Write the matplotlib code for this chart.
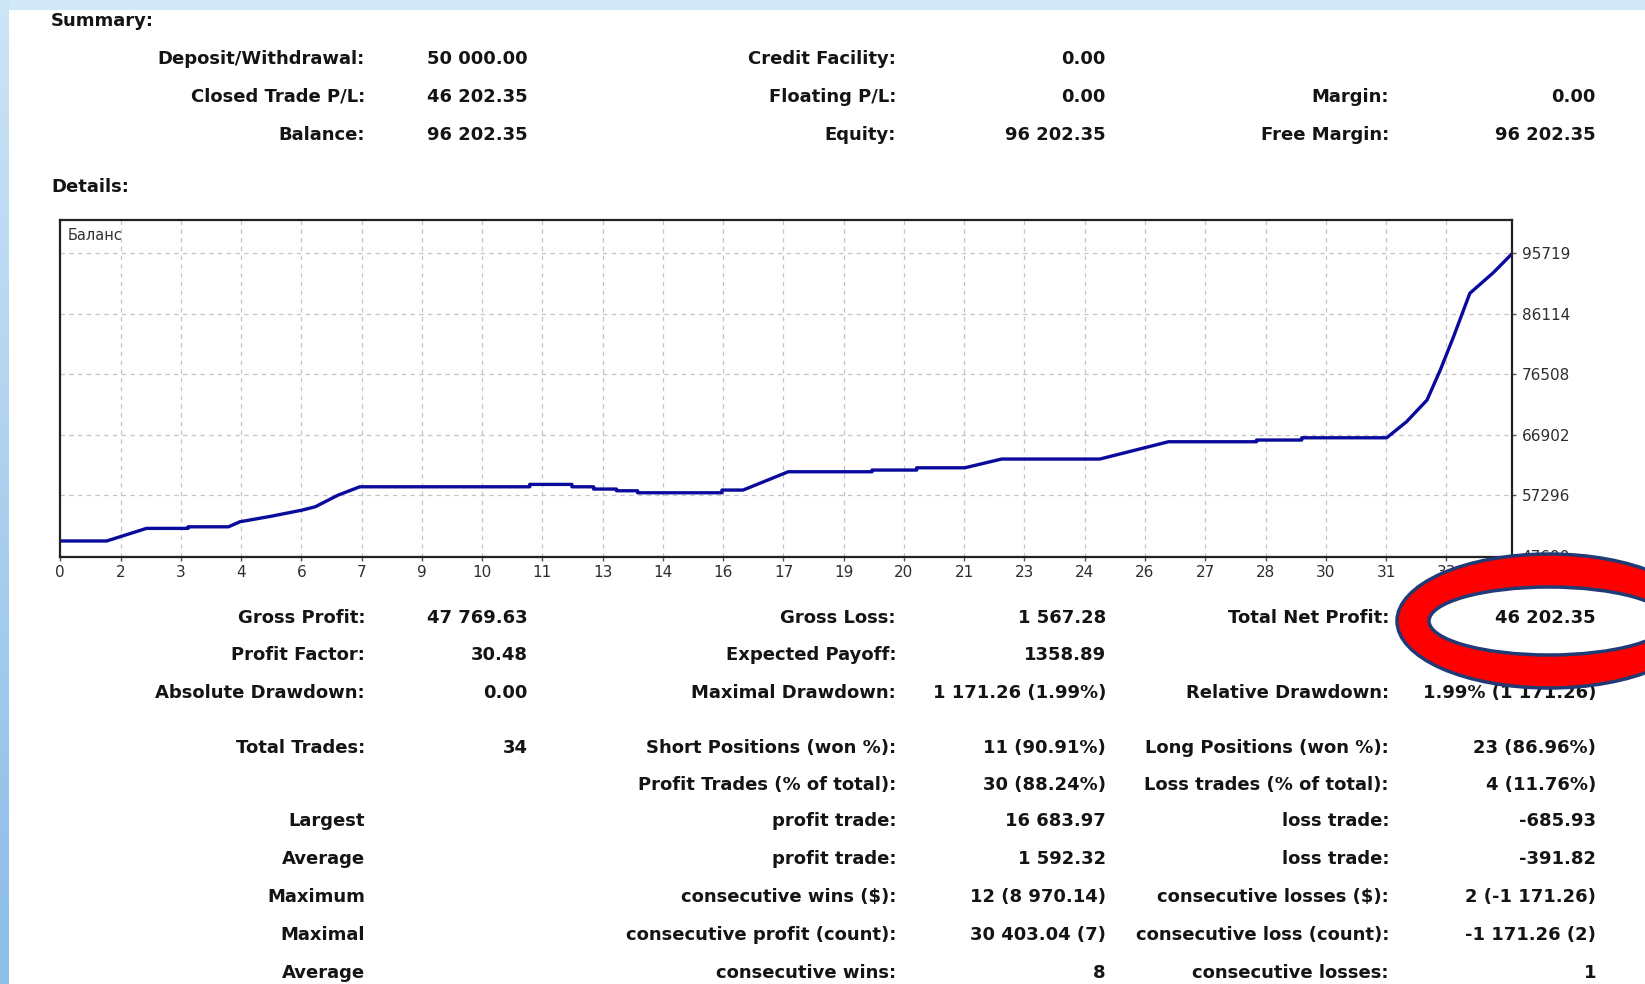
#!/usr/bin/env python3
# coding: utf-8

import numpy as np
import matplotlib
matplotlib.use("Agg")
import matplotlib.pyplot as plt
from matplotlib.colors import LinearSegmentedColormap
from matplotlib.patches import Rectangle, Ellipse

#
# Summary block
#
sum_labels_1 = ["Deposit/Withdrawal:", "Closed Trade P/L:", "Balance:"]
sum_values_1 = ["50 000.00", "46 202.35", "96 202.35"]
sum_labels_2 = ["Credit Facility:", "Floating P/L:", "Equity:"]
sum_values_2 = ["0.00", "0.00", "96 202.35"]
sum_labels_3 = ["", "Margin:", "Free Margin:"]
sum_values_3 = ["", "0.00", "96 202.35"]

#
# Balance curve (x in grid steps, y in account currency)
#
bal_x = [0.00, 0.77, 1.43, 2.12, 2.12, 2.79, 2.98, 3.51, 4.01, 4.23, 4.61, 4.97,
         7.79, 7.79, 8.49, 8.49, 8.85, 8.85, 9.23, 9.23, 9.58, 9.58, 10.98, 10.98,
         11.33, 12.08, 13.47, 13.47, 14.21, 14.21, 15.01, 15.62, 17.25, 18.39,
         19.85, 19.85, 20.60, 20.60, 22.01, 22.34, 22.68, 22.90, 23.12, 23.39,
         23.61, 23.78, 24.09]
bal_y = [50000, 50000, 52000, 52000, 52250, 52250, 53050, 53950, 54900, 55430, 57290, 58610,
         58610, 58990, 58990, 58610, 58610, 58250, 58250, 57980, 57980, 57660, 57660, 58090,
         58090, 61000, 61000, 61270, 61270, 61630, 61630, 63020, 63020, 65770,
         65770, 66040, 66040, 66400, 66400, 68950, 72400, 77170, 82460, 89360,
         91210, 92640, 95650]

y_ticks = [47690, 57296, 66902, 76508, 86114, 95719]
x_labels = ["0", "2", "3", "4", "6", "7", "9", "10", "11", "13", "14", "16",
            "17", "19", "20", "21", "23", "24", "26", "27", "28", "30", "31", "33"]

#
# Details block (one list per column)
#
det_labels_1 = ["Gross Profit:", "Profit Factor:", "Absolute Drawdown:", "Total Trades:", "",
                "Largest", "Average", "Maximum", "Maximal", "Average"]
det_values_1 = ["47 769.63", "30.48", "0.00", "34", "", "", "", "", "", ""]
det_labels_2 = ["Gross Loss:", "Expected Payoff:", "Maximal Drawdown:", "Short Positions (won %):",
                "Profit Trades (% of total):", "profit trade:", "profit trade:",
                "consecutive wins ($):", "consecutive profit (count):", "consecutive wins:"]
det_values_2 = ["1 567.28", "1358.89", "1 171.26 (1.99%)", "11 (90.91%)", "30 (88.24%)",
                "16 683.97", "1 592.32", "12 (8 970.14)", "30 403.04 (7)", "8"]
det_labels_3 = ["Total Net Profit:", "", "Relative Drawdown:", "Long Positions (won %):",
                "Loss trades (% of total):", "loss trade:", "loss trade:",
                "consecutive losses ($):", "consecutive loss (count):", "consecutive losses:"]
det_values_3 = ["46 202.35", "", "1.99% (1 171.26)", "23 (86.96%)", "4 (11.76%)",
                "-685.93", "-391.82", "2 (-1 171.26)", "-1 171.26 (2)", "1"]

W, H = 1645, 984
fig = plt.figure(figsize=(W / 100, H / 100), dpi=100)
fig.patch.set_facecolor("white")

# background layer in pixel coords
bg = fig.add_axes([0, 0, 1, 1], zorder=0)
bg.axis("off")

# light blue frame of the screenshot
bg.add_patch(Rectangle((0, 0), W, 10, color="#d2e8f6", lw=0))
grad = np.linspace(0, 1, 64).reshape(-1, 1)
edge_cm = LinearSegmentedColormap.from_list("edge", ["#cbe4f6", "#8dbde8"])
bg.imshow(grad, extent=(0, 9, H, 0), cmap=edge_cm, aspect="auto", zorder=1)
bg.set_xlim(0, W)
bg.set_ylim(H, 0)

FS = 13
TXT = "#141414"

def put(x, y, s, ha="right"):
    if s:
        bg.text(x, y, s, ha=ha, va="center", fontsize=FS, fontweight="bold", color=TXT)

put(51, 21, "Summary:", ha="left")
put(51, 187, "Details:", ha="left")

sum_rows = [59, 96.5, 134.5]
for i, yy in enumerate(sum_rows):
    put(365, yy, sum_labels_1[i])
    put(528, yy, sum_values_1[i])
    put(896, yy, sum_labels_2[i])
    put(1106, yy, sum_values_2[i])
    put(1389, yy, sum_labels_3[i])
    put(1596, yy, sum_values_3[i])

det_rows = [618, 655.5, 693.5, 748, 784.5, 821.5, 859, 897, 934.5, 972.5]
for i, yy in enumerate(det_rows):
    put(365, yy, det_labels_1[i])
    put(528, yy, det_values_1[i])
    put(896, yy, det_labels_2[i])
    put(1106, yy, det_values_2[i])
    put(1389, yy, det_labels_3[i])
    if i != 0:
        put(1596, yy, det_values_3[i])

#
# Balance chart
#
left, right, top, bottom = 60.3, 1512, 220, 556.7
ax = fig.add_axes([left / W, 1 - bottom / H, (right - left) / W, (bottom - top) / H], zorder=1)
ax.plot(bal_x, bal_y, color="#0a0a9c", lw=2.4, solid_joinstyle="round")
ax.set_xlim(0, 24.09)
ax.set_ylim(47500, 101010)
ax.set_xticks(np.arange(len(x_labels)))
ax.set_xticklabels(x_labels)
ax.set_yticks(y_ticks)
ax.yaxis.tick_right()
ax.tick_params(axis="both", labelsize=11, labelcolor="#2e2e2e", color="#555555",
               length=3, width=1, pad=4)
ax.tick_params(axis="x", pad=3)
ax.grid(True, color="#c4c4c4", linestyle=(0, (3.5, 3.5)), lw=0.9)
for sp in ax.spines.values():
    sp.set_color("#222222")
    sp.set_linewidth(1.6)
ax.text(0.005, 0.955, "Баланс", transform=ax.transAxes, fontsize=10.5,
        color="#333333", ha="left", va="center")

#
# Red ring around the net profit
#
ov = fig.add_axes([0, 0, 1, 1], zorder=2)
ov.set_xlim(0, W)
ov.set_ylim(H, 0)
ov.axis("off")
ov.add_patch(Ellipse((1549, 621), 304, 134, facecolor="#fe0000", edgecolor="#203a76", lw=2.5))
ov.add_patch(Ellipse((1549, 621), 240, 68, facecolor="white", edgecolor="#203a76", lw=2.5))
ov.text(1596, 618, det_values_3[0], ha="right", va="center", fontsize=FS,
        fontweight="bold", color=TXT)

fig.savefig("out.png", dpi=100)
